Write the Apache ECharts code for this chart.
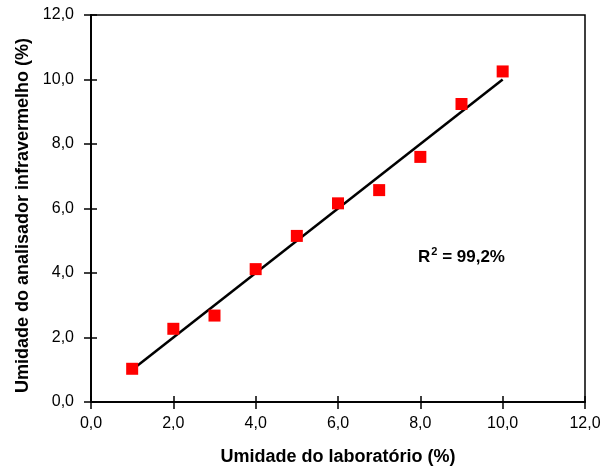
<!DOCTYPE html>
<html><head><meta charset="utf-8">
<script src="https://cdn.jsdelivr.net/npm/echarts@6/dist/echarts.min.js"></script>
<style>html,body{margin:0;padding:0;background:#fff}#c{width:609px;height:471px}</style>
</head><body><div id="c"></div>
<script>
const labX = [1, 2, 3, 4, 5, 6, 7, 8, 9, 10];
const irY = [1.03, 2.27, 2.68, 4.12, 5.15, 6.16, 6.57, 7.60, 9.24, 10.25];
const fitX = [1, 10];
const fitY = [1.0, 10.0];
const annotation = {x: 9, y: 4.5, r2: '99,2%'};
const xTitle = 'Umidade do laboratório (%)';
const yTitle = 'Umidade do analisador infravermelho (%)';

const fmt = v => v.toFixed(1).replace('.', ',');
const font = 'Liberation Sans, Arial, sans-serif';
const axisCommon = {
  type: 'value', min: 0, max: 12, interval: 2,
  axisLine: {show: true, lineStyle: {color: '#000', width: 1.5}},
  splitLine: {show: false}
};
const chart = echarts.init(document.getElementById('c'));
chart.setOption({
  animation: false,
  backgroundColor: '#fff',
  grid: {left: 91, right: 24, top: 15, bottom: 68, show: true, borderColor: '#000', borderWidth: 1.5},
  xAxis: [
    Object.assign({}, axisCommon, {
      position: 'bottom',
      axisTick: {show: true, inside: false, length: 7, lineStyle: {color: '#000', width: 1.5}},
      axisLabel: {formatter: fmt, color: '#000', fontSize: 16, fontFamily: font, margin: 14},
      name: xTitle, nameLocation: 'middle', nameGap: 46,
      nameTextStyle: {color: '#000', fontSize: 18, fontWeight: 'bold', fontFamily: font}
    }),
    Object.assign({}, axisCommon, {
      position: 'bottom',
      axisTick: {show: true, inside: true, length: 6, lineStyle: {color: '#000', width: 1.5}},
      axisLabel: {show: false}
    })
  ],
  yAxis: [
    Object.assign({}, axisCommon, {
      position: 'left',
      axisTick: {show: true, inside: false, length: 7, lineStyle: {color: '#000', width: 1.5}},
      axisLabel: {formatter: fmt, color: '#000', fontSize: 16, fontFamily: font, margin: 17},
      name: yTitle, nameLocation: 'middle', nameGap: 53, nameRotate: 90,
      nameTextStyle: {color: '#000', fontSize: 18, fontWeight: 'bold', fontFamily: font, padding: [0, 14, 0, 0]}
    }),
    Object.assign({}, axisCommon, {
      position: 'left',
      axisTick: {show: true, inside: true, length: 6, lineStyle: {color: '#000', width: 1.5}},
      axisLabel: {show: false}
    })
  ],
  series: [
    {
      type: 'line',
      data: fitX.map((x, i) => [x, fitY[i]]),
      showSymbol: false, symbol: 'none',
      lineStyle: {color: '#000', width: 2.5},
      z: 2
    },
    {
      type: 'scatter',
      data: labX.map((x, i) => [x, irY[i]]),
      symbol: 'rect', symbolSize: 12,
      itemStyle: {color: '#ff0000', opacity: 1},
      z: 3
    },
    {
      type: 'scatter',
      data: [[annotation.x, annotation.y]],
      symbolSize: 0,
      itemStyle: {color: '#000', opacity: 0},
      label: {
        show: true, position: 'inside', color: '#000', opacity: 1,
        formatter: '{a|R}{s|2}{a| = ' + annotation.r2 + '}',
        rich: {
          a: {fontSize: 17, fontWeight: 'bold', color: '#000', fontFamily: font, lineHeight: 20},
          s: {fontSize: 11, fontWeight: 'bold', color: '#000', fontFamily: font, verticalAlign: 'top', lineHeight: 12, padding: [0, 0, 0, 1]}
        }
      },
      emphasis: {disabled: true},
      silent: true
    }
  ]
});
</script></body></html>
